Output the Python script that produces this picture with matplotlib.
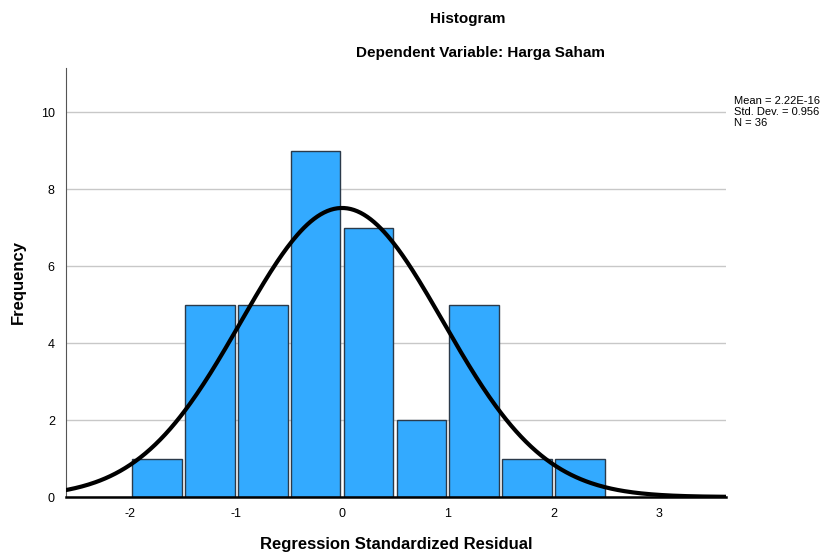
import numpy as np
import matplotlib.pyplot as plt

plt.rcParams['font.family'] = ['Liberation Sans', 'DejaVu Sans']
plt.rcParams['axes.unicode_minus'] = False

# histogram bins (left edges) and counts
bin_left = [-2.0, -1.5, -1.0, -0.5, 0.0, 0.5, 1.0, 1.5, 2.0]
counts = [1, 5, 5, 9, 7, 2, 5, 1, 1]
bin_width = 0.5

# stats shown on the chart
mean = 2.22e-16
std = 0.956
n = 36

fig = plt.figure(figsize=(8.32, 5.59), dpi=100)
ax = fig.add_axes([0.0793, 0.1109, 0.7933, 0.7675])

centers = np.array(bin_left) + bin_width / 2
ax.bar(centers, counts, width=bin_width - 0.03, color='#33aaff',
       edgecolor='#2b3a4a', linewidth=1.0, zorder=2)

# normal curve scaled to counts
xs = np.linspace(-2.65, 3.65, 400)
ys = n * bin_width * np.exp(-0.5 * ((xs - mean) / std) ** 2) / (std * np.sqrt(2 * np.pi))
ax.plot(xs, ys, color='black', linewidth=3, zorder=3)

ax.set_xlim(-2.61, 3.63)
ax.set_ylim(0, 11.15)
ax.set_xticks([-2, -1, 0, 1, 2, 3])
ax.set_yticks([0, 2, 4, 6, 8, 10])
ax.tick_params(axis='both', length=0, labelsize=9, pad=8)
ax.yaxis.grid(True, color='#c8c8c8', linewidth=1, zorder=0)
ax.set_axisbelow(True)
for s in ['top', 'right']:
    ax.spines[s].set_visible(False)
ax.spines['left'].set_color('#555555')
ax.spines['bottom'].set_color('black')
ax.spines['bottom'].set_linewidth(1.8)

fig.text(0.022, 0.495, 'Frequency', rotation=90, ha='center', va='center',
         fontsize=12, fontweight='bold')
fig.text(0.476, 0.026, 'Regression Standardized Residual', ha='center', va='center',
         fontsize=12, fontweight='bold')

fig.text(0.5625, 0.966, 'Histogram', ha='center', va='center', fontsize=11, fontweight='bold')
fig.text(0.578, 0.906, 'Dependent Variable: Harga Saham', ha='center', va='center',
         fontsize=11, fontweight='bold')

fig.text(0.882, 0.8, 'Mean = 2.22E-16\nStd. Dev. = 0.956\nN = 36',
         ha='left', va='center', fontsize=8, linespacing=1.15)

fig.savefig('out.png', dpi=100)
